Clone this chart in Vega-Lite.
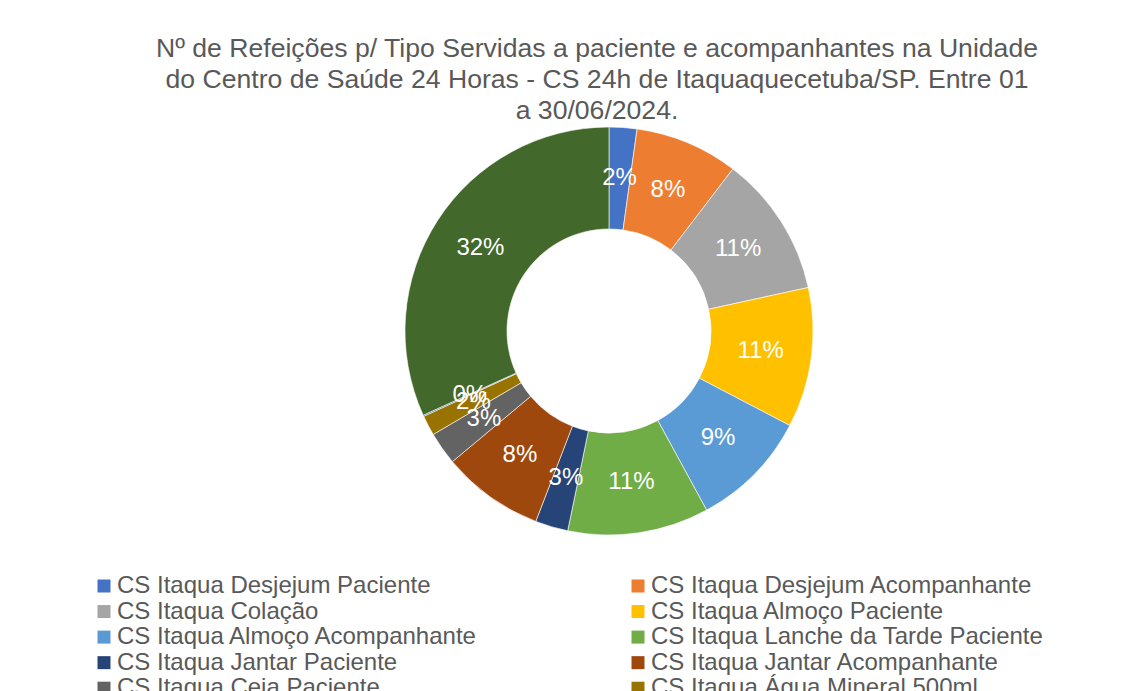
{
  "$schema": "https://vega.github.io/schema/vega-lite/v6.json",
  "autosize": {"type": "none"},
  "padding": {"left": 4, "top": 10, "right": 0, "bottom": 60},
  "width": 1210,
  "height": 642,
  "background": "#ffffff",
  "title": {
    "text": ["Nº de Refeições p/ Tipo Servidas a paciente e acompanhantes na Unidade", "do Centro de Saúde 24 Horas - CS 24h de Itaquaquecetuba/SP. Entre 01", "a 30/06/2024."],
    "font": "Liberation Sans",
    "fontSize": 26.6,
    "fontWeight": "normal",
    "color": "#595959",
    "lineHeight": 31,
    "anchor": "middle",
    "frame": "group",
    "baseline": "top",
    "offset": -115,
    "dx": -12
  },
  "data": {
    "values": [
      {"ordem": 1, "tipo": "CS Itaqua Desjejum Paciente", "v": 22},
      {"ordem": 2, "tipo": "CS Itaqua Desjejum Acompanhante", "v": 82},
      {"ordem": 3, "tipo": "CS Itaqua Colação", "v": 112},
      {"ordem": 4, "tipo": "CS Itaqua Almoço Paciente", "v": 111},
      {"ordem": 5, "tipo": "CS Itaqua Almoço Acompanhante", "v": 94},
      {"ordem": 6, "tipo": "CS  Itaqua Lanche da Tarde Paciente", "v": 112},
      {"ordem": 7, "tipo": "CS Itaqua Jantar Paciente", "v": 26},
      {"ordem": 8, "tipo": "CS Itaqua Jantar Acompanhante", "v": 81},
      {"ordem": 9, "tipo": "CS Itaqua Ceia Paciente", "v": 26},
      {"ordem": 10, "tipo": "CS Itaqua Água Mineral 500ml", "v": 16},
      {"ordem": 11, "tipo": "CS Itaqua Água Mineral 1,5L", "v": 1},
      {"ordem": 12, "tipo": "CS Itaqua Total", "v": 318}
    ]
  },
  "transform": [
    {"joinaggregate": [{"op": "sum", "field": "v", "as": "total"}]},
    {"calculate": "datum.v / datum.total", "as": "pct"}
  ],
  "encoding": {
    "theta": {"field": "v", "type": "quantitative", "stack": true},
    "order": {"field": "ordem", "type": "quantitative", "sort": "ascending"}
  },
  "layer": [
    {
      "mark": {"type": "arc", "outerRadius": 204, "innerRadius": 102, "stroke": "#ffffff", "strokeWidth": 0.6},
      "encoding": {
        "color": {
          "field": "tipo",
          "type": "nominal",
          "sort": null,
          "scale": {
            "domain": ["CS Itaqua Desjejum Paciente", "CS Itaqua Desjejum Acompanhante", "CS Itaqua Colação", "CS Itaqua Almoço Paciente", "CS Itaqua Almoço Acompanhante", "CS  Itaqua Lanche da Tarde Paciente", "CS Itaqua Jantar Paciente", "CS Itaqua Jantar Acompanhante", "CS Itaqua Ceia Paciente", "CS Itaqua Água Mineral 500ml", "CS Itaqua Água Mineral 1,5L", "CS Itaqua Total"],
            "range": ["#4472C4", "#ED7D31", "#A5A5A5", "#FFC000", "#5B9BD5", "#70AD47", "#264478", "#9E480E", "#636363", "#997300", "#255E91", "#43682B"]
          },
          "legend": {
            "orient": "none",
            "legendX": 88,
            "legendY": 564,
            "title": null,
            "columns": 2,
            "direction": "horizontal",
            "symbolType": "square",
            "symbolSize": 169,
            "symbolStrokeWidth": 0,
            "labelFont": "Liberation Sans",
            "labelFontSize": 24,
            "labelColor": "#595959",
            "labelLimit": 0,
            "labelOffset": 1,
            "rowPadding": 1.55,
            "columnPadding": 147,
            "padding": 0
          }
        }
      }
    },
    {
      "mark": {"type": "text", "radius": 153, "font": "Liberation Sans", "fontSize": 24, "fill": "#ffffff"},
      "encoding": {
        "text": {"field": "pct", "type": "quantitative", "format": ".0%"}
      }
    }
  ],
  "config": {
    "view": {"stroke": "#d9d9d9", "strokeWidth": 1.5, "strokeDash": [3062, 1210, 642, 0]}
  }
}
